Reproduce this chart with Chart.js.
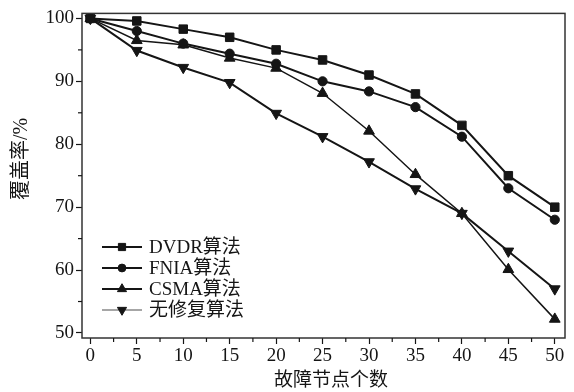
<!DOCTYPE html>
<html><head><meta charset="utf-8">
<script src="https://cdn.jsdelivr.net/npm/chart.js@4/dist/chart.umd.min.js"></script>
<style>html,body{margin:0;padding:0;background:#fff;}#wrap{width:574px;height:392px;}</style>
</head><body><div id="wrap"><canvas id="c" width="574" height="392"></canvas></div>
<script>
const faults = [0,5,10,15,20,25,30,35,40,45,50];
const dvdr  = [100,99.6,98.3,97.0,95.0,93.4,91.0,88.0,83.0,75.0,70.0];
const fnia  = [100,98.0,96.0,94.4,92.8,90.0,88.4,85.9,81.2,73.0,68.0];
const csma  = [100,96.5,95.8,93.7,92.1,88.1,82.1,75.2,69.0,60.1,52.2];
const none  = [100,94.9,92.2,89.8,84.9,81.2,77.2,72.9,69.0,63.0,57.0];
const seriesNames = ['DVDR算法','FNIA算法','CSMA算法','无修复算法'];
const xTicks = [0,5,10,15,20,25,30,35,40,45,50];
const yTicks = [50,60,70,80,90,100];
const xTitle = '故障节点个数';
const yTitle = '覆盖率/%';

const FONT = '"Liberation Serif","Noto Sans CJK SC",serif';
const INK = '#151515';
const pts = arr => faults.map((f,i)=>({x:f,y:arr[i]}));

const styles = [
  {pointStyle:'rect', pointRadius:6, borderWidth:2, rotation:0, legendColor:INK, legendWidth:2.2},
  {pointStyle:'circle', pointRadius:4.6, borderWidth:2, rotation:0, legendColor:INK, legendWidth:2.2},
  {pointStyle:'triangle', pointRadius:6.2, borderWidth:1.5, rotation:0, legendColor:INK, legendWidth:2.2},
  {pointStyle:'triangle', pointRadius:6.2, borderWidth:2, rotation:180, legendColor:'#888', legendWidth:1.6}
];
const dataArrs = [dvdr,fnia,csma,none];

const framePlugin = {
  id:'frame',
  afterDraw(chart){
    const ctx = chart.ctx, a = chart.chartArea;
    const xs = chart.scales.x, ys = chart.scales.y;
    ctx.save();
    ctx.strokeStyle = '#333'; ctx.lineWidth = 1.5;
    ctx.strokeRect(a.left, a.top, a.right-a.left, a.bottom-a.top);
    // minor ticks
    ctx.strokeStyle = INK; ctx.lineWidth = 1.2;
    for (let v=2.5; v<50; v+=5){
      const px = xs.getPixelForValue(v);
      ctx.beginPath(); ctx.moveTo(px,a.bottom); ctx.lineTo(px,a.bottom+4); ctx.stroke();
    }
    for (let v=55; v<100; v+=10){
      const py = ys.getPixelForValue(v);
      ctx.beginPath(); ctx.moveTo(a.left,py); ctx.lineTo(a.left-4,py); ctx.stroke();
    }
    // axis titles
    ctx.fillStyle = INK;
    ctx.font = '19px ' + FONT;
    ctx.textAlign = 'center'; ctx.textBaseline = 'middle';
    ctx.fillText(xTitle, 331, 381);
    ctx.save();
    ctx.translate(22, 159); ctx.rotate(-Math.PI/2);
    ctx.font = '20px ' + FONT;
    ctx.fillText(yTitle, 0, 0);
    ctx.restore();
    // legend
    const lx = 102, ly0 = 247, dy = 21;
    ctx.font = '19px ' + FONT;
    ctx.textBaseline = 'middle'; ctx.textAlign = 'left';
    chart.data.datasets.forEach((ds,i)=>{
      const y = ly0 + i*dy;
      const st = styles[i];
      ctx.strokeStyle = st.legendColor; ctx.lineWidth = st.legendWidth;
      ctx.beginPath(); ctx.moveTo(lx,y); ctx.lineTo(lx+40,y); ctx.stroke();
      ctx.fillStyle = INK; ctx.strokeStyle = INK; ctx.lineWidth = 1;
      Chart.helpers.drawPoint(ctx,{pointStyle:st.pointStyle, rotation:st.rotation, radius:st.pointRadius*0.85, borderWidth:1}, lx+20, y);
      ctx.fillText(ds.label, lx+47, y+1);
    });
    ctx.restore();
  }
};

new Chart(document.getElementById('c'), {
  type:'line',
  data:{datasets: seriesNames.map((n,i)=>({
    label:n, data:pts(dataArrs[i]),
    borderColor:INK, backgroundColor:INK,
    borderWidth:styles[i].borderWidth,
    pointStyle:styles[i].pointStyle, pointRadius:styles[i].pointRadius,
    pointRotation:styles[i].rotation,
    pointBackgroundColor:INK, pointBorderColor:INK, pointBorderWidth:1,
    tension:0
  }))},
  options:{
    responsive:false, animation:false,
    layout:{padding:{left:0,top:12,right:9,bottom:0}},
    plugins:{legend:{display:false}, tooltip:{enabled:false}},
    scales:{
      x:{type:'linear', min:-0.9, max:51.1,
        afterBuildTicks(s){ s.ticks = xTicks.map(v=>({value:v})); },
        afterFit(s){ s.height = 54; },
        grid:{drawOnChartArea:false, tickLength:6, tickColor:INK, tickWidth:1.2},
        border:{display:false},
        ticks:{color:INK, font:{family:FONT, size:19}, padding:1, maxRotation:0},
        title:{display:false}
      },
      y:{type:'linear', min:49.2, max:100.8,
        afterBuildTicks(s){ s.ticks = yTicks.map(v=>({value:v})); },
        afterFit(s){ s.width = 82; },
        grid:{drawOnChartArea:false, tickLength:6, tickColor:INK, tickWidth:1.2},
        border:{display:false},
        ticks:{color:INK, font:{family:FONT, size:19}, padding:2},
        title:{display:false}
      }
    }
  },
  plugins:[framePlugin]
});
</script></body></html>
